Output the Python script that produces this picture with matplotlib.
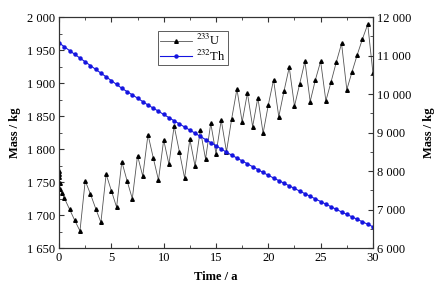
import matplotlib.pyplot as plt
from matplotlib.ticker import MultipleLocator, FuncFormatter

plt.rcParams["font.family"] = ["Liberation Serif", "DejaVu Serif"]
plt.rcParams["mathtext.fontset"] = "stix"

# 233U mass (kg), left axis
t_u = [0, 0.02, 0.04, 0.06, 0.1, 0.3, 0.5, 1.0, 1.5, 2.0,
       2.5, 3.0, 3.5, 4.0, 4.5, 5.0, 5.5, 6.0, 6.5, 7.0,
       7.5, 8.0, 8.5, 9.0, 9.5, 10.0, 10.5, 11.0, 11.5, 12.0,
       12.5, 13.0, 13.5, 14.0, 14.5, 15.0, 15.5, 16.0, 16.5, 17.0,
       17.5, 18.0, 18.5, 19.0, 19.5, 20.0, 20.5, 21.0, 21.5, 22.0,
       22.5, 23.0, 23.5, 24.0, 24.5, 25.0, 25.5, 26.0, 26.5, 27.0,
       27.5, 28.0, 28.5, 29.0, 29.5, 30.0]
m_u = [1767, 1762, 1757, 1748, 1740, 1733, 1726, 1709, 1692, 1676,
       1752, 1732, 1710, 1689, 1762, 1737, 1712, 1781, 1752, 1725,
       1790, 1759, 1822, 1787, 1753, 1814, 1777, 1835, 1796, 1756,
       1815, 1774, 1829, 1785, 1839, 1793, 1844, 1796, 1846, 1891,
       1841, 1885, 1834, 1878, 1824, 1867, 1905, 1849, 1888, 1924,
       1865, 1899, 1933, 1872, 1905, 1933, 1873, 1902, 1932, 1960,
       1890, 1917, 1943, 1967, 1989, 1915]

# 232Th mass (kg), right axis, every half year
t_th = [i * 0.5 for i in range(61)]
m_th = [11330, 11230, 11130, 11032, 10935, 10838, 10740, 10642, 10545, 10448,
        10350, 10250, 10150, 10065, 9980, 9895, 9805, 9715, 9635, 9555,
        9470, 9390, 9306, 9225, 9145, 9065, 8985, 8900, 8820, 8740,
        8660, 8575, 8490, 8415, 8340, 8265, 8190, 8115, 8040, 7965,
        7890, 7822, 7754, 7686, 7618, 7550, 7482, 7414, 7346, 7278,
        7210, 7142, 7074, 7006, 6940, 6876, 6812, 6748, 6684, 6620,
        6555]


def thousands(v, pos):
    return "{:,.0f}".format(v).replace(",", " ")


fig = plt.figure(figsize=(4.44, 2.94), dpi=100)
ax = fig.add_axes([0.133, 0.156, 0.707, 0.786])
ax2 = ax.twinx()

l1, = ax.plot(t_u, m_u, color="#555555", linewidth=0.6, marker="^",
              markersize=2.6, markerfacecolor="black", markeredgecolor="black",
              label="$^{233}$U")
l2, = ax2.plot(t_th, m_th, color="#1515e0", linewidth=0.8, marker="o",
               markersize=2.2, markerfacecolor="#1515e0",
               markeredgecolor="#1515e0", label="$^{232}$Th")

ax.set_xlim(0, 30)
ax.set_ylim(1650, 2000)
ax2.set_ylim(6000, 12000)

ax.xaxis.set_major_locator(MultipleLocator(5))
ax.xaxis.set_minor_locator(MultipleLocator(2.5))
ax.yaxis.set_major_locator(MultipleLocator(50))
ax.yaxis.set_minor_locator(MultipleLocator(25))
ax2.yaxis.set_major_locator(MultipleLocator(1000))
ax2.yaxis.set_minor_locator(MultipleLocator(500))
ax.yaxis.set_major_formatter(FuncFormatter(thousands))
ax2.yaxis.set_major_formatter(FuncFormatter(thousands))

ax.tick_params(which="both", direction="in", top=True, right=False,
               labelsize=9, pad=3, color="#333333")
ax.tick_params(which="major", length=3.5)
ax.tick_params(which="minor", length=2)
ax2.tick_params(which="both", direction="in", labelsize=9, pad=3,
                color="#333333")
ax2.tick_params(which="major", length=3.5)
ax2.tick_params(which="minor", length=2)

for a in (ax, ax2):
    for s in a.spines.values():
        s.set_linewidth(0.8)
        s.set_color("#333333")

ax.set_xlabel("Time / a", fontsize=9, fontweight="bold", labelpad=5)
ax.set_ylabel("Mass / kg", fontsize=9, fontweight="bold", labelpad=4)
ax2.set_ylabel("Mass / kg", fontsize=9, fontweight="bold", labelpad=8)

leg = ax.legend(handles=[l1, l2], loc="upper left",
                bbox_to_anchor=(0.315, 0.94), fontsize=9, frameon=True,
                fancybox=False, handlelength=2.6, borderpad=0.15,
                labelspacing=0.05, handletextpad=0.3, borderaxespad=0)
leg.get_frame().set_edgecolor("#333333")
leg.get_frame().set_linewidth(0.7)

fig.savefig("out.png", dpi=100)
